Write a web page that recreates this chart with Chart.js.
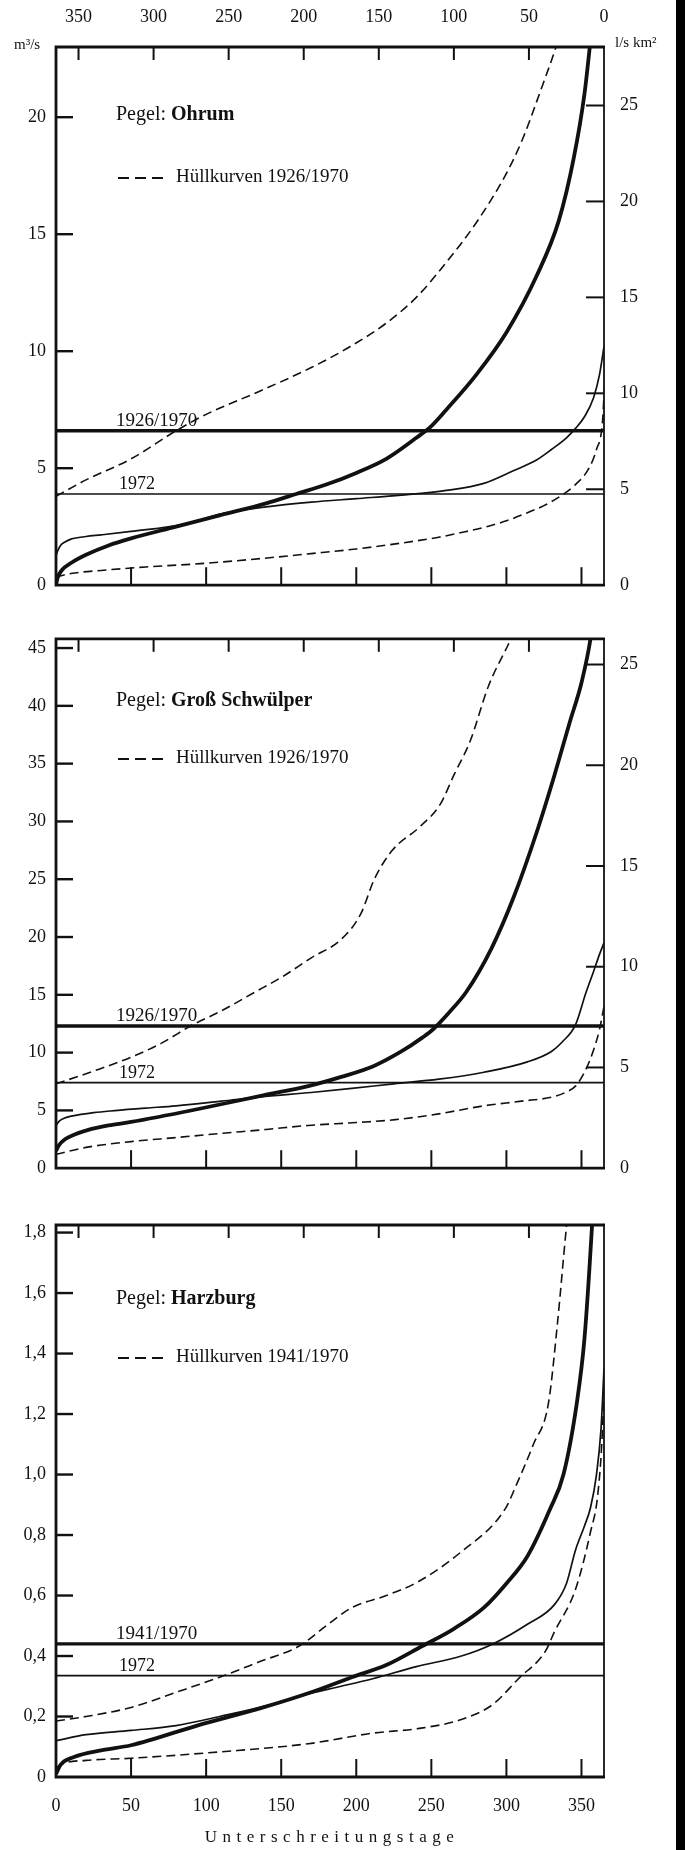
<!DOCTYPE html>
<html>
<head>
<meta charset="utf-8">
<script src="https://cdn.jsdelivr.net/npm/chart.js@4.4.1/dist/chart.umd.min.js"></script>
<style>
  html, body { margin: 0; padding: 0; background: #fff; }
  body { width: 685px; height: 1850px; position: relative; overflow: hidden; }
  canvas { position: absolute; left: 0; }
  #edge { position: absolute; left: 676px; top: 0; width: 9px; height: 1850px; background: #000; }
</style>
</head>
<body>
<canvas id="ohrum" width="685" height="612" style="top:0px"></canvas>
<canvas id="schwuelper" width="685" height="583" style="top:612px"></canvas>
<canvas id="harzburg" width="685" height="655" style="top:1195px"></canvas>
<div id="edge"></div>
<script>
// ---- Dauerlinien der Abflüsse (Unterschreitungstage 0..365) ----
const DAY_TICKS = [0, 50, 100, 150, 200, 250, 300, 350];
const SPEC_TICKS = [0, 5, 10, 15, 20, 25];

// Pegel Ohrum
const ohrumMeanDays = [0, 1, 4, 10, 20, 35, 50, 80, 110, 140, 160, 180, 200, 220, 240, 250, 260, 280, 300, 320, 335, 345, 352, 358];
const ohrumMeanQ    = [0, 0.3, 0.65, 0.95, 1.3, 1.7, 2.0, 2.5, 3.0, 3.5, 3.9, 4.3, 4.8, 5.4, 6.3, 6.8, 7.5, 9.0, 10.8, 13.2, 15.6, 18.3, 21.0, 24.5];
const ohrum1972Days = [0, 1, 3, 6, 10, 20, 30, 50, 85, 110, 140, 170, 200, 230, 260, 285, 305, 320, 330, 340, 346, 352, 358, 362, 365];
const ohrum1972Q    = [1.25, 1.45, 1.7, 1.85, 1.97, 2.08, 2.15, 2.3, 2.6, 3.05, 3.35, 3.55, 3.7, 3.85, 4.05, 4.35, 4.9, 5.35, 5.8, 6.3, 6.7, 7.2, 8.0, 9.0, 10.2];
const ohrumLowDays  = [0, 10, 30, 60, 96, 130, 170, 200, 230, 255, 270, 285, 300, 314, 325, 337, 346, 355, 360, 364, 366];
const ohrumLowQ     = [0.35, 0.5, 0.63, 0.78, 0.92, 1.1, 1.35, 1.55, 1.8, 2.05, 2.25, 2.47, 2.75, 3.1, 3.4, 3.85, 4.3, 5.0, 5.8, 7.0, 9.5];
const ohrumHighDays = [0, 20, 50, 80, 100, 136, 170, 196, 220, 240, 260, 280, 300, 311, 322, 334, 342];
const ohrumHighQ    = [3.8, 4.5, 5.4, 6.6, 7.3, 8.3, 9.3, 10.2, 11.2, 12.3, 13.8, 15.5, 17.6, 19.1, 21.0, 23.2, 25.0];
const ohrumMQ = 6.6, ohrumMQ1972 = 3.9;
const ohrumQTicks = [0, 5, 10, 15, 20];
const ohrumArea = 820;   // km²

// Pegel Groß Schwülper
const gsMeanDays = [0, 2, 6, 12, 21, 35, 50, 94, 138, 168, 190, 211, 230, 244, 251, 262, 273, 290, 305, 320, 332, 342, 350, 356, 360];
const gsMeanQ    = [1.5, 2.0, 2.5, 2.9, 3.3, 3.7, 4.0, 5.1, 6.3, 7.1, 7.9, 8.8, 10.1, 11.3, 12.0, 13.5, 15.2, 19.0, 23.5, 29.0, 34.0, 38.5, 42.0, 45.8, 50.0];
const gs1972Days = [0, 2, 5, 12, 25, 36, 60, 80, 110, 138, 170, 197, 225, 255, 285, 314, 330, 337, 346, 353, 358, 362, 365];
const gs1972Q    = [3.7, 4.05, 4.3, 4.55, 4.8, 4.95, 5.2, 5.4, 5.8, 6.2, 6.55, 6.9, 7.3, 7.7, 8.3, 9.2, 10.1, 10.9, 12.4, 15.2, 17.0, 18.5, 19.5];
const gsLowDays  = [0, 20, 50, 80, 109, 140, 168, 200, 226, 255, 285, 310, 332, 340, 346, 352, 358, 362, 365];
const gsLowQ     = [1.2, 1.8, 2.3, 2.65, 3.0, 3.35, 3.7, 3.95, 4.2, 4.7, 5.4, 5.8, 6.2, 6.6, 7.1, 8.3, 10.2, 12.0, 14.0];
const gsHighDays = [0, 25, 50, 70, 91, 110, 132, 150, 170, 190, 203, 212, 224, 242, 256, 265, 276, 288, 303, 310];
const gsHighQ    = [7.3, 8.4, 9.6, 10.8, 12.4, 13.6, 15.2, 16.5, 18.2, 19.8, 22.0, 25.0, 27.5, 29.5, 31.5, 34.0, 37.0, 41.7, 45.8, 48.0];
const gsMQ = 12.3, gsMQ1972 = 7.4;
const gsQTicks = [0, 5, 10, 15, 20, 25, 30, 35, 40, 45];
const gsArea = 1743;     // km²

// Pegel Harzburg
const hzMeanDays = [0, 3, 12, 30, 50, 94, 138, 170, 197, 220, 244, 265, 285, 300, 314, 329, 338, 347, 352, 357, 360];
const hzMeanQ    = [0.01, 0.04, 0.066, 0.088, 0.105, 0.17, 0.23, 0.28, 0.33, 0.37, 0.433, 0.49, 0.56, 0.64, 0.73, 0.885, 1.0, 1.24, 1.45, 1.82, 2.1];
const hz1972Days = [0, 20, 50, 80, 109, 140, 168, 190, 211, 240, 270, 291, 314, 332, 340, 346, 352, 356, 360, 363, 365];
const hz1972Q    = [0.12, 0.14, 0.154, 0.17, 0.2, 0.235, 0.275, 0.3, 0.325, 0.365, 0.4, 0.44, 0.505, 0.57, 0.64, 0.75, 0.83, 0.89, 1.0, 1.15, 1.35];
const hzLowDays  = [0, 5, 20, 50, 109, 168, 211, 241, 270, 291, 308, 326, 332, 346, 356, 361, 364, 366];
const hzLowQ     = [0.03, 0.045, 0.055, 0.062, 0.083, 0.11, 0.145, 0.16, 0.19, 0.24, 0.325, 0.416, 0.48, 0.62, 0.81, 0.94, 1.15, 1.45];
const hzHighDays = [0, 20, 50, 80, 109, 135, 162, 180, 197, 220, 241, 270, 299, 307, 318, 328, 334, 340, 344];
const hzHighQ    = [0.185, 0.2, 0.23, 0.28, 0.33, 0.38, 0.433, 0.5, 0.56, 0.6, 0.645, 0.745, 0.885, 0.97, 1.1, 1.236, 1.5, 1.82, 2.0];
const hzMQ = 0.44, hzMQ1972 = 0.335;
const hzQTicks = [0, 0.2, 0.4, 0.6, 0.8, 1.0, 1.2, 1.4, 1.6, 1.8];

// ---- drawing ----
const INK = '#111';
const SERIF = "'Liberation Serif', 'DejaVu Serif', serif";
const intLabel = v => String(v);
const commaLabel = v => (v === 0 ? '0' : v.toFixed(1).replace('.', ','));
const pts = (days, q) => days.map((d, i) => ({ x: d, y: q[i] }));
const fixedTicks = values => scale => { scale.ticks = values.map(v => ({ value: v })); };

function line(ctx, x1, y1, x2, y2) { ctx.beginPath(); ctx.moveTo(x1, y1); ctx.lineTo(x2, y2); ctx.stroke(); }

const framePlugin = {
  id: 'frame',
  afterDatasetsDraw(chart, args, o) {
    const ctx = chart.ctx, a = chart.chartArea;
    const xs = chart.scales.x, x2 = chart.scales.x2, ys = chart.scales.y, y2 = chart.scales.y2;
    ctx.save();
    ctx.strokeStyle = INK; ctx.fillStyle = INK; ctx.lineCap = 'butt';
    // frame
    ctx.lineWidth = 2.8;
    ctx.beginPath();
    ctx.moveTo(a.right + 1, a.top); ctx.lineTo(a.left, a.top); ctx.lineTo(a.left, a.bottom); ctx.lineTo(a.right + 1, a.bottom);
    ctx.stroke();
    ctx.lineWidth = 1.8;
    line(ctx, a.right, a.top, a.right, a.bottom);
    // day ticks, pointing inward
    ctx.lineWidth = 2;
    DAY_TICKS.forEach(d => {
      if (d <= 0) return;
      const pb = xs.getPixelForValue(d); line(ctx, pb, a.bottom, pb, a.bottom - 18);
      const pt = x2.getPixelForValue(d); line(ctx, pt, a.top, pt, a.top + 13);
    });
    // discharge ticks
    ctx.lineWidth = 2.4;
    o.qTicks.forEach(v => { if (v <= 0) return; const p = ys.getPixelForValue(v); line(ctx, a.left, p, a.left + 17, p); });
    if (o.specTicks) {
      ctx.lineWidth = 2;
      o.specTicks.forEach(v => { if (v <= 0) return; const p = y2.getPixelForValue(v); line(ctx, a.right, p, a.right - 18, p); });
    }
    // station name
    ctx.textBaseline = 'middle'; ctx.textAlign = 'left';
    ctx.font = `20px ${SERIF}`;
    ctx.fillText('Pegel: ', 116, o.stationY);
    const w = ctx.measureText('Pegel: ').width;
    ctx.font = `bold 20px ${SERIF}`;
    ctx.fillText(o.station, 116 + w, o.stationY);
    // envelope key
    ctx.lineWidth = 2.2; ctx.setLineDash([11, 6]);
    line(ctx, 118, o.legendY + 1, 168, o.legendY + 1);
    ctx.setLineDash([]);
    ctx.font = `19px ${SERIF}`;
    ctx.fillText('Hüllkurven ' + o.period, 176, o.legendY);
    // mean discharge labels
    ctx.textBaseline = 'alphabetic';
    ctx.font = `19px ${SERIF}`;
    ctx.fillText(o.period, 116, ys.getPixelForValue(o.mq) - 5);
    ctx.font = `18px ${SERIF}`;
    ctx.fillText('1972', 119, ys.getPixelForValue(o.mq1972) - 5);
    // units / axis title
    ctx.font = `15px ${SERIF}`;
    if (o.units) {
      ctx.textBaseline = 'middle';
      ctx.fillText('m³/s', 14, 45);
      ctx.fillText('l/s km²', 615, 43);
    }
    if (o.title) {
      ctx.font = `17px ${SERIF}`; ctx.textAlign = 'center'; ctx.textBaseline = 'middle';
      ctx.letterSpacing = '5.5px';
      ctx.fillText(o.title, (a.left + a.right) / 2 + 2, o.titleY);
      ctx.letterSpacing = '0px';
    }
    ctx.restore();
  }
};

function makePanel(id, p) {
  const curve = (data, width, dash) => ({
    data, borderColor: INK, borderWidth: width, borderDash: dash || [],
    cubicInterpolationMode: 'monotone', pointRadius: 0, fill: false,
    xAxisID: 'x', yAxisID: 'y'
  });
  const level = (q, width) => ({
    data: [{ x: 0, y: q }, { x: 365, y: q }], borderColor: INK, borderWidth: width,
    pointRadius: 0, fill: false, xAxisID: 'x', yAxisID: 'y'
  });
  const tickFont = { family: SERIF, size: 18 };
  const scales = {
    x: {
      type: 'linear', position: 'bottom', min: 0, max: 365,
      grid: { display: false, drawTicks: false }, border: { display: false },
      afterBuildTicks: fixedTicks(DAY_TICKS),
      ticks: { display: !!p.bottomLabels, padding: 18, color: INK, font: tickFont, maxRotation: 0 },
      afterFit: s => { s.height = p.bottomH; }
    },
    x2: {
      type: 'linear', position: 'top', min: 0, max: 365, reverse: true,
      grid: { display: false, drawTicks: false }, border: { display: false },
      afterBuildTicks: fixedTicks(DAY_TICKS),
      ticks: { display: !!p.topLabels, padding: 19, color: INK, font: tickFont, maxRotation: 0 },
      afterFit: s => { s.height = p.topH; }
    },
    y: {
      type: 'linear', position: 'left', min: 0, max: p.qMax,
      grid: { display: false, drawTicks: false }, border: { display: false },
      afterBuildTicks: fixedTicks(p.qTicks),
      ticks: { padding: 10, color: INK, font: tickFont, callback: v => p.qLabel(v) },
      afterFit: s => { s.width = 56; }
    },
    y2: {
      type: 'linear', position: 'right', min: 0, max: p.area ? p.qMax * 1000 / p.area : 1,
      grid: { display: false, drawTicks: false }, border: { display: false },
      afterBuildTicks: fixedTicks(p.specTicks || []),
      ticks: { display: !!p.specTicks, padding: 16, color: INK, font: tickFont },
      afterFit: s => { s.width = 81; }
    }
  };
  return new Chart(document.getElementById(id), {
    type: 'line',
    data: {
      datasets: [
        curve(pts(p.lowDays, p.lowQ), 1.6, [9, 5]),
        curve(pts(p.highDays, p.highQ), 1.6, [9, 5]),
        level(p.mq1972, 1.6),
        level(p.mq, 3.4),
        curve(pts(p.d1972, p.q1972), 1.7),
        curve(pts(p.meanDays, p.meanQ), 3.8)
      ]
    },
    options: {
      responsive: false, animation: false, devicePixelRatio: 1,
      layout: { padding: 0 },
      parsing: false,
      scales,
      plugins: {
        legend: { display: false }, tooltip: { enabled: false },
        frame: {
          qTicks: p.qTicks, specTicks: p.specTicks, station: p.station, period: p.period,
          stationY: p.stationY, legendY: p.legendY, mq: p.mq, mq1972: p.mq1972,
          units: p.units, title: p.title, titleY: p.titleY
        }
      }
    },
    plugins: [framePlugin]
  });
}

makePanel('ohrum', {
  station: 'Ohrum', period: '1926/1970',
  meanDays: ohrumMeanDays, meanQ: ohrumMeanQ, d1972: ohrum1972Days, q1972: ohrum1972Q,
  lowDays: ohrumLowDays, lowQ: ohrumLowQ, highDays: ohrumHighDays, highQ: ohrumHighQ,
  mq: ohrumMQ, mq1972: ohrumMQ1972, qTicks: ohrumQTicks, qLabel: intLabel, specTicks: SPEC_TICKS,
  qMax: 23.0, area: ohrumArea, topH: 47, bottomH: 15, topLabels: true,
  stationY: 115, legendY: 177, units: true
});

makePanel('schwuelper', {
  station: 'Groß Schwülper', period: '1926/1970',
  meanDays: gsMeanDays, meanQ: gsMeanQ, d1972: gs1972Days, q1972: gs1972Q,
  lowDays: gsLowDays, lowQ: gsLowQ, highDays: gsHighDays, highQ: gsHighQ,
  mq: gsMQ, mq1972: gsMQ1972, qTicks: gsQTicks, qLabel: intLabel, specTicks: SPEC_TICKS,
  qMax: 45.8, area: gsArea, topH: 18, bottomH: 12,
  stationY: 89, legendY: 146
});

makePanel('harzburg', {
  station: 'Harzburg', period: '1941/1970',
  meanDays: hzMeanDays, meanQ: hzMeanQ, d1972: hz1972Days, q1972: hz1972Q,
  lowDays: hzLowDays, lowQ: hzLowQ, highDays: hzHighDays, highQ: hzHighQ,
  mq: hzMQ, mq1972: hzMQ1972, qTicks: hzQTicks, qLabel: commaLabel,
  qMax: 1.825, topH: 30, bottomH: 73, bottomLabels: true,
  stationY: 104, legendY: 162, title: 'Unterschreitungstage', titleY: 643
});
</script>
</body>
</html>
